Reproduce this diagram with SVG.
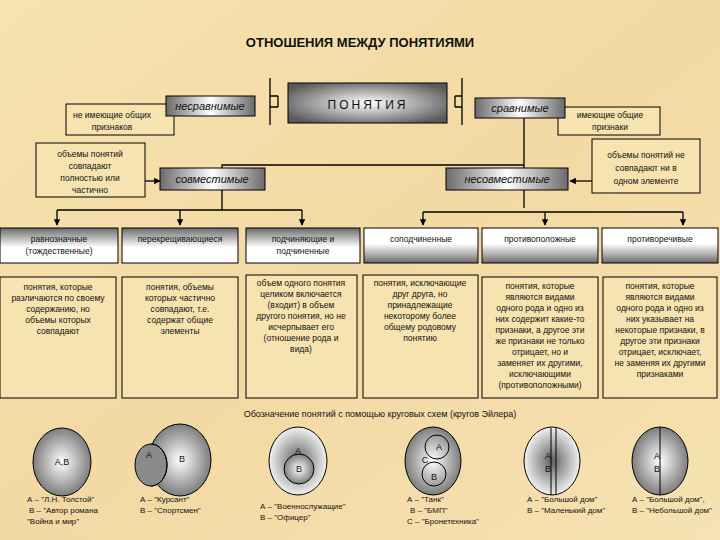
<svg xmlns="http://www.w3.org/2000/svg" width="720" height="540" viewBox="0 0 720 540">
<defs>
<linearGradient id="bg" x1="0" y1="0" x2="1" y2="1"><stop offset="0" stop-color="#f6e3b0"/><stop offset="0.5" stop-color="#f3d9a3"/><stop offset="1" stop-color="#f6e2b2"/></linearGradient>
<linearGradient id="hdr" x1="0" y1="0" x2="0" y2="1"><stop offset="0" stop-color="#6a6a6a"/><stop offset="0.55" stop-color="#ffffff"/><stop offset="1" stop-color="#ffffff"/></linearGradient>
<linearGradient id="hdr2" x1="0" y1="0" x2="0" y2="1"><stop offset="0" stop-color="#ffffff"/><stop offset="0.45" stop-color="#ffffff"/><stop offset="1" stop-color="#6a6a6a"/></linearGradient>
<linearGradient id="lbl" x1="0" y1="0" x2="1" y2="0"><stop offset="0" stop-color="#6a6a6a"/><stop offset="0.5" stop-color="#ffffff"/><stop offset="1" stop-color="#6a6a6a"/></linearGradient>
<radialGradient id="main" cx="0.5" cy="0.5" r="0.6"><stop offset="0" stop-color="#ffffff"/><stop offset="1" stop-color="#5a5a5a"/></radialGradient>
<radialGradient id="ball" cx="0.5" cy="0.5" r="0.55"><stop offset="0" stop-color="#ffffff"/><stop offset="1" stop-color="#707070"/></radialGradient>
<radialGradient id="ball2" cx="0.5" cy="0.5" r="0.55"><stop offset="0" stop-color="#606060"/><stop offset="1" stop-color="#ffffff"/></radialGradient>
<marker id="ar" viewBox="0 0 10 10" refX="9" refY="5" markerWidth="5" markerHeight="5" orient="auto"><path d="M0,0L10,5L0,10z" fill="#000"/></marker>
</defs>
<style>
text{font-family:"Liberation Sans",Arial,sans-serif;fill:#111}
.s{font-size:8.5px;text-anchor:middle}
.i{font-size:11px;font-style:italic;text-anchor:middle}
.b{fill:#f6e3b0;stroke:#000;stroke-width:1}
.g{stroke:#000;stroke-width:1}
.c{stroke:#000;stroke-width:1.3;fill:none}
.e{stroke:#000;stroke-width:1}
.l{font-size:8px}
</style>
<rect width="720" height="540" fill="url(#bg)"/>
<text x="360" y="47" style="font-size:13px;font-weight:bold;text-anchor:middle">ОТНОШЕНИЯ МЕЖДУ ПОНЯТИЯМИ</text>

<g id="connectors">
<path class="c" d="M270,78 V125 M270,96 H278 M270,107 H278 M278,96 V107"/>
<path class="c" d="M462,78 V125 M462,96 H455 M462,107 H455 M455,96 V107"/>
<path class="c" d="M524,117 V175" marker-end="url(#ar)"/>
<path class="c" d="M524,165 H222 V177" marker-end="url(#ar)"/>
<path class="c" d="M145,181 H160" marker-end="url(#ar)"/>
<path class="c" d="M592,181 H570" marker-end="url(#ar)"/>
<path class="c" d="M222,190 V210"/>
<path class="c" d="M524,190 V208"/>
<path class="c" d="M57,210 H302"/>
<path class="c" d="M57,210 V225" marker-end="url(#ar)"/>
<path class="c" d="M180,210 V225" marker-end="url(#ar)"/>
<path class="c" d="M302,210 V225" marker-end="url(#ar)"/>
<path class="c" d="M423,212 H683"/>
<path class="c" d="M423,212 V225" marker-end="url(#ar)"/>
<path class="c" d="M545,212 V225" marker-end="url(#ar)"/>
<path class="c" d="M683,212 V225" marker-end="url(#ar)"/>
</g>

<g id="ponyatiya"><rect x="288" y="83" width="159" height="40" fill="url(#main)" class="g"/><text x="368" y="109" style="font-size:12px;letter-spacing:3px;text-anchor:middle">ПОНЯТИЯ</text></g>
<g id="ne-imeyushie"><rect class="b" x="66" y="104" width="108" height="31"/><text class="s" x="112" y="118">не имеющие общих</text><text class="s" x="112" y="130">признаков</text></g>
<g id="nesravnimye"><rect x="166" y="96" width="89" height="20" fill="url(#lbl)" class="g"/><text class="i" x="210" y="110">несравнимые</text></g>
<g id="imeyushie"><rect class="b" x="558" y="107" width="102" height="28"/><text class="s" x="610" y="118">имеющие общие</text><text class="s" x="610" y="130">признаки</text></g>
<g id="sravnimye"><rect x="475" y="98" width="90" height="20" fill="url(#lbl)" class="g"/><text class="i" x="520" y="112">сравнимые</text></g>
<g id="left-note"><rect class="b" x="36" y="143" width="109" height="54"/><text class="s" x="90" y="157">объемы понятий</text><text class="s" x="90" y="169">совпадают</text><text class="s" x="90" y="181">полностью или</text><text class="s" x="90" y="193">частично</text></g>
<g id="sovmestimye"><rect x="160" y="168" width="105" height="22" fill="url(#lbl)" class="g"/><text class="i" x="212" y="183">совместимые</text></g>
<g id="right-note"><rect class="b" x="592" y="139" width="108" height="54"/><text class="s" x="646" y="158">объемы понятий не</text><text class="s" x="646" y="171">совпадают ни в</text><text class="s" x="646" y="184">одном элементе</text></g>
<g id="nesovmestimye"><rect x="446" y="168" width="122" height="22" fill="url(#lbl)" class="g"/><text class="i" x="507" y="183">несовместимые</text></g>

<g id="h1"><rect x="0" y="228" width="118" height="35" fill="url(#hdr)" class="g"/><text class="s" x="59" y="242">равнозначные</text><text class="s" x="59" y="254">(тождественные)</text></g>
<g id="h2"><rect x="122" y="228" width="116" height="35" fill="url(#hdr)" class="g"/><text class="s" x="180" y="242">перекрещивающиеся</text></g>
<g id="h3"><rect x="246" y="228" width="114" height="35" fill="url(#hdr)" class="g"/><text class="s" x="303" y="242">подчиняющие и</text><text class="s" x="303" y="254">подчиненные</text></g>
<g id="h4"><rect x="364" y="228" width="114" height="35" fill="url(#hdr2)" class="g"/><text class="s" x="421" y="242">соподчиненные</text></g>
<g id="h5"><rect x="482" y="228" width="116" height="35" fill="url(#hdr2)" class="g"/><text class="s" x="540" y="242">противоположные</text></g>
<g id="h6"><rect x="602" y="228" width="116" height="35" fill="url(#hdr2)" class="g"/><text class="s" x="660" y="242">противоречивые</text></g>

<g id="d1"><rect class="b" x="0" y="277" width="116" height="121"/><text class="s" x="58" y="290">понятия, которые</text><text class="s" x="58" y="301">различаются по своему</text><text class="s" x="58" y="312">содержанию, но</text><text class="s" x="58" y="323">объемы которых</text><text class="s" x="58" y="334">совпадают</text></g>
<g id="d2"><rect class="b" x="122" y="277" width="116" height="121"/><text class="s" x="180" y="290">понятия, объемы</text><text class="s" x="180" y="301">которых частично</text><text class="s" x="180" y="312">совпадают, т.е.</text><text class="s" x="180" y="323">содержат общие</text><text class="s" x="180" y="334">элементы</text></g>
<g id="d3"><rect class="b" x="246" y="275" width="111" height="123"/><text class="s" x="301" y="286">объем одного понятия</text><text class="s" x="301" y="297">целиком включается</text><text class="s" x="301" y="308">(входит) в объем</text><text class="s" x="301" y="319">другого понятия, но не</text><text class="s" x="301" y="330">исчерпывает его</text><text class="s" x="301" y="341">(отношение рода и</text><text class="s" x="301" y="352">вида)</text></g>
<g id="d4"><rect class="b" x="363" y="275" width="115" height="123"/><text class="s" x="420" y="286">понятия, исключающие</text><text class="s" x="420" y="297">друг друга, но</text><text class="s" x="420" y="308">принадлежащие</text><text class="s" x="420" y="319">некоторому более</text><text class="s" x="420" y="330">общему родовому</text><text class="s" x="420" y="341">понятию</text></g>
<g id="d5"><rect class="b" x="482" y="277" width="116" height="121"/><text class="s" x="540" y="289">понятия, которые</text><text class="s" x="540" y="300">являются видами</text><text class="s" x="540" y="311">одного рода и одно из</text><text class="s" x="540" y="322">них содержит какие-то</text><text class="s" x="540" y="333">признаки, а другое эти</text><text class="s" x="540" y="344">же признаки не только</text><text class="s" x="540" y="355">отрицает, но и</text><text class="s" x="540" y="366">заменяет их другими,</text><text class="s" x="540" y="377">исключающими</text><text class="s" x="540" y="388">(противоположными)</text></g>
<g id="d6"><rect class="b" x="603" y="277" width="114" height="121"/><text class="s" x="660" y="289">понятия, которые</text><text class="s" x="660" y="300">являются видами</text><text class="s" x="660" y="311">одного рода и одно из</text><text class="s" x="660" y="322">них указывает на</text><text class="s" x="660" y="333">некоторые признаки, в</text><text class="s" x="660" y="344">другое эти признаки</text><text class="s" x="660" y="355">отрицает, исключает,</text><text class="s" x="660" y="366">не заменяя их другими</text><text class="s" x="660" y="377">признаками</text></g>

<text x="380" y="417" style="font-size:9px;text-anchor:middle">Обозначение понятий с помощью круговых схем (кругов Эйлера)</text>

<g id="e1"><ellipse cx="62" cy="462" rx="29" ry="34" fill="url(#ball)" class="e"/><text x="62" y="465" style="font-size:9px;text-anchor:middle">А,В</text>
<text class="l" x="27" y="502">А – "Л.Н. Толстой"</text><text class="l" x="29" y="513">В – "Автор романа</text><text class="l" x="27" y="524">"Война и мир"</text></g>
<g id="e2"><ellipse cx="180" cy="460" rx="31" ry="36" fill="url(#ball)" class="e"/><ellipse cx="151" cy="465" rx="16" ry="21" fill="#8a8a8a" class="e"/><path d="M151,444 A16,21 0 0 1 151,486" fill="none" stroke="#000"/><text x="149" y="458" style="font-size:9px;text-anchor:middle">А</text><text x="182" y="462" style="font-size:9px;text-anchor:middle">В</text>
<text class="l" x="140" y="502">А – "Курсант"</text><text class="l" x="140" y="513">В – "Спортсмен"</text></g>
<g id="e3"><ellipse cx="298" cy="461" rx="29" ry="34" fill="url(#ball2)" class="e"/><circle cx="299" cy="469" r="15" fill="url(#ball)" class="e"/><text x="298" y="454" style="font-size:9px;text-anchor:middle">А</text><text x="299" y="472" style="font-size:9px;text-anchor:middle">В</text>
<text class="l" x="260" y="509">А – "Военнослужащие"</text><text class="l" x="260" y="520">В – "Офицер"</text></g>
<g id="e4"><ellipse cx="433" cy="461" rx="28" ry="34" fill="url(#ball)" class="e"/><circle cx="437" cy="447" r="12" fill="none" class="e"/><circle cx="434" cy="474" r="12" fill="none" class="e"/><text x="439" y="450" style="font-size:9px;text-anchor:middle">А</text><text x="425" y="463" style="font-size:9px;text-anchor:middle">С</text><text x="434" y="480" style="font-size:9px;text-anchor:middle">В</text>
<text class="l" x="407" y="502">А – "Танк"</text><text class="l" x="410" y="513">В – "БМП"</text><text class="l" x="407" y="524">С – "Бронетехника"</text></g>
<g id="e5"><ellipse cx="552" cy="461" rx="28" ry="34" fill="url(#ball2)" class="e"/><line x1="556" y1="428" x2="556" y2="495" class="e"/><line x1="551" y1="428" x2="551" y2="495" class="e"/><text x="548" y="459" style="font-size:9px;text-anchor:middle">А</text><text x="548" y="472" style="font-size:9px;text-anchor:middle">В</text>
<text class="l" x="527" y="502">А – "Большой дом"</text><text class="l" x="527" y="513">В – "Маленький дом"</text></g>
<g id="e6"><ellipse cx="660" cy="461" rx="28" ry="34" fill="url(#ball)" class="e"/><line x1="660" y1="427" x2="660" y2="495" class="e"/><text x="657" y="459" style="font-size:9px;text-anchor:middle">А</text><text x="657" y="472" style="font-size:9px;text-anchor:middle">В</text>
<text class="l" x="632" y="502">А – "Большой дом",</text><text class="l" x="632" y="513">В – "Небольшой дом"</text></g>
</svg>
